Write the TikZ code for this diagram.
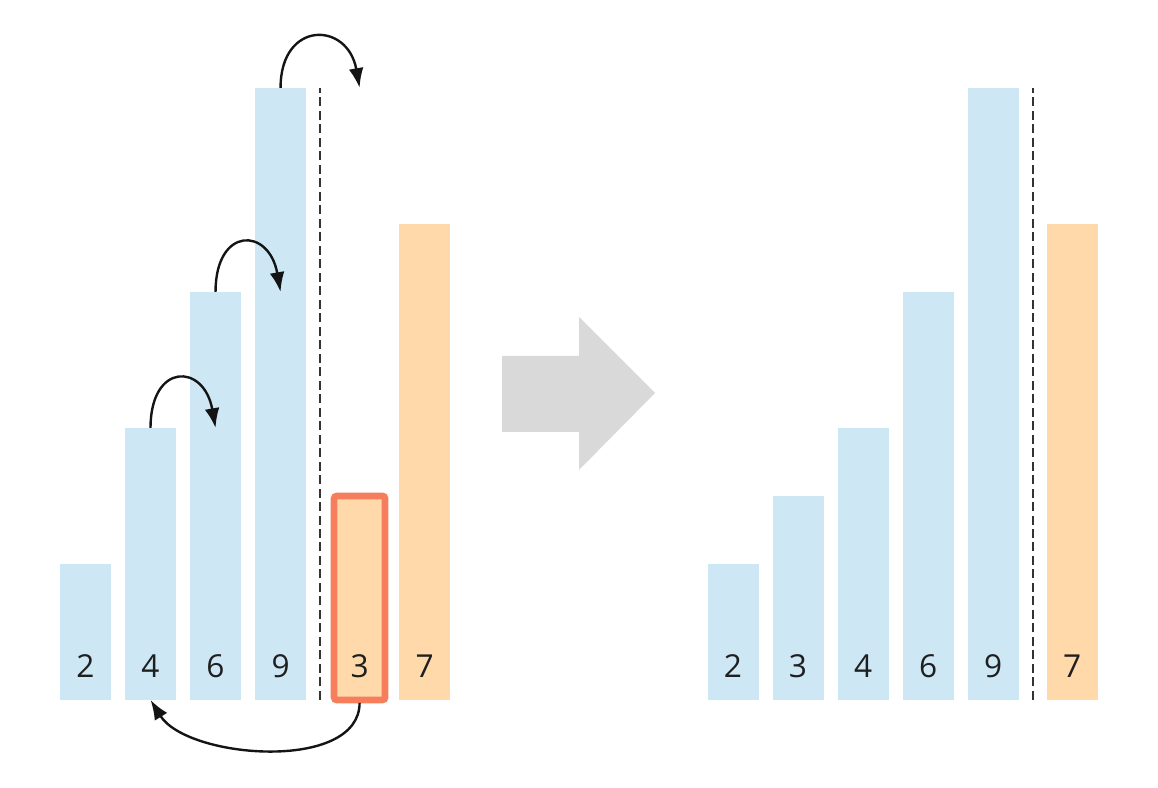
\documentclass[tikz,border=0pt]{standalone}
\usepackage{fontspec}
\setmainfont{Open Sans}
\usetikzlibrary{arrows.meta,positioning}
\definecolor{barblue}{HTML}{CDE7F5}
\definecolor{barorange}{HTML}{FFD9AA}
\definecolor{pick}{HTML}{F77E5C}
\definecolor{bigarrow}{HTML}{D9D9D9}
\tikzstyle{bar} = [rectangle, minimum width=1.275cm, inner sep=0pt, outer sep=0pt]
\tikzstyle{sorted} = [bar, fill=barblue]
\tikzstyle{unsorted} = [bar, fill=barorange]
\tikzstyle{num} = [anchor=base, inner sep=0pt, text=black!88, font=\fontsize{22.5}{24}\selectfont]
\tikzstyle{hop} = [-{Latex[length=14pt,width=10.5pt]}, line width=1.7pt, black!92]
\tikzstyle{split} = [line width=1.5pt, black!80, dash pattern=on 6.4pt off 3.2pt]

\begin{document}
\begin{tikzpicture}[x=0.025cm, y=0.025cm, node distance=0.35cm]
\useasboundingbox[fill=white] (0,-88) rectangle (1158,700);

    % We start by placing the bars before the insert
    \node [sorted, minimum height=3.4cm, anchor=south west] (l2) at (60,0) {};
    \node [sorted, minimum height=6.8cm, right=of l2.south east, anchor=south west] (l4) {};
    \node [sorted, minimum height=10.2cm, right=of l4.south east, anchor=south west] (l6) {};
    \node [sorted, minimum height=15.3cm, right=of l6.south east, anchor=south west] (l9) {};
    \node [unsorted, draw=pick, line width=4.8pt, rounded corners=2pt, minimum height=5.1cm,
           right=0.7cm of l9.south east, anchor=south west] (l3) {};
    \node [unsorted, minimum height=11.9cm, right=of l3.south east, anchor=south west] (l7) {};

    \node [num] (ln2) at ([yshift=0.55cm]l2.south) {2};
    \node [num] (ln4) at ([yshift=0.55cm]l4.south) {4};
    \node [num] (ln6) at ([yshift=0.55cm]l6.south) {6};
    \node [num] (ln9) at ([yshift=0.55cm]l9.south) {9};
    \node [num] (ln3) at ([yshift=0.55cm]l3.south) {3};
    \node [num] (ln7) at ([yshift=0.55cm]l7.south) {7};

    \draw [split] ([xshift=0.35cm]l9.south east) -- ([xshift=0.35cm]l9.north east);

    % the bigger ones move one place to the right
    \draw [hop] (l4.north) to[out=90, in=100, looseness=2.6] (l4.north -| l6);
    \draw [hop] (l6.north) to[out=90, in=100, looseness=2.6] (l6.north -| l9);
    \draw [hop] (l9.north) to[out=90, in=100, looseness=2.2] (l9.north -| l3);
    \draw [hop] ([yshift=-2pt]l3.south) to[out=-90, in=-58, looseness=0.85] (l4.south);

    % the big arrow in the middle
    \fill [bigarrow] (502,268) -- (579,268) -- (579,230) -- (655,307) -- (579,383)
        -- (579,344) -- (502,344) -- cycle;

    % and the bars after the insert
    \node [sorted, minimum height=3.4cm, anchor=south west] (r2) at (707.5,0) {};
    \node [sorted, minimum height=5.1cm, right=of r2.south east, anchor=south west] (r3) {};
    \node [sorted, minimum height=6.8cm, right=of r3.south east, anchor=south west] (r4) {};
    \node [sorted, minimum height=10.2cm, right=of r4.south east, anchor=south west] (r6) {};
    \node [sorted, minimum height=15.3cm, right=of r6.south east, anchor=south west] (r9) {};
    \node [unsorted, minimum height=11.9cm, right=0.7cm of r9.south east, anchor=south west] (r7) {};

    \node [num] (rn2) at ([yshift=0.55cm]r2.south) {2};
    \node [num] (rn3) at ([yshift=0.55cm]r3.south) {3};
    \node [num] (rn4) at ([yshift=0.55cm]r4.south) {4};
    \node [num] (rn6) at ([yshift=0.55cm]r6.south) {6};
    \node [num] (rn9) at ([yshift=0.55cm]r9.south) {9};
    \node [num] (rn7) at ([yshift=0.55cm]r7.south) {7};

    \draw [split] ([xshift=0.35cm]r9.south east) -- ([xshift=0.35cm]r9.north east);

\end{tikzpicture}
\end{document}
